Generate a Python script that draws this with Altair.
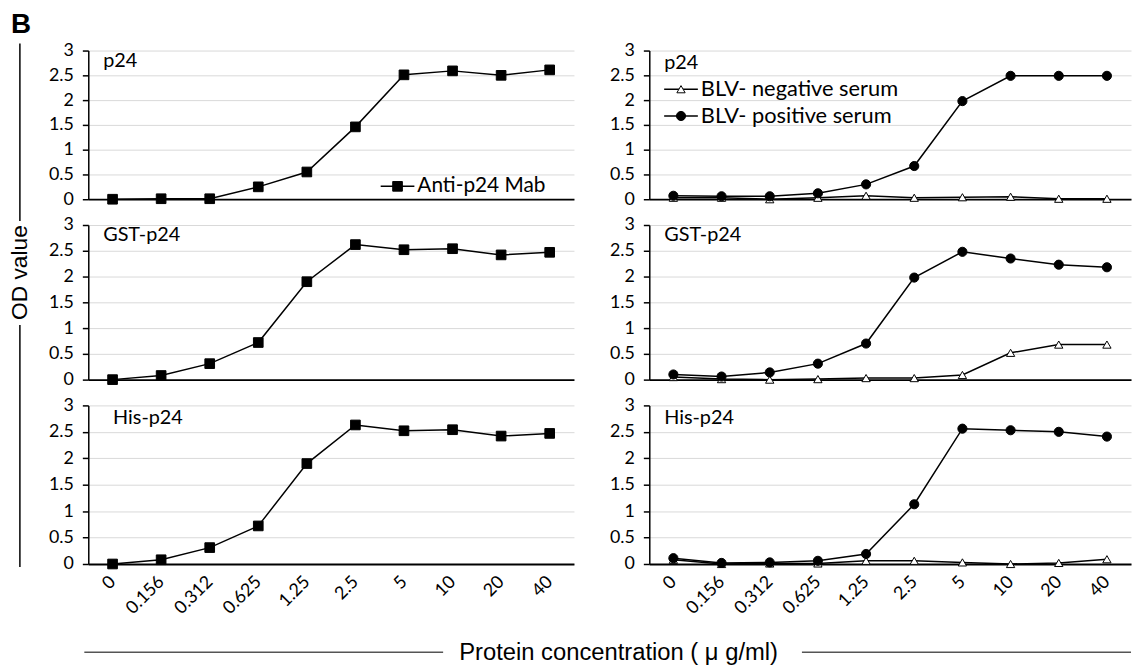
import altair as alt
import pandas as pd

conc_labels = ["0", "0.156", "0.312", "0.625", "1.25", "2.5", "5", "10", "20", "40"]

mab_p24 = [0.0, 0.01, 0.01, 0.25, 0.55, 1.46, 2.51, 2.59, 2.50, 2.61]
mab_gst = [0.0, 0.08, 0.31, 0.72, 1.90, 2.62, 2.52, 2.54, 2.42, 2.47]
mab_his = [0.0, 0.08, 0.31, 0.72, 1.90, 2.63, 2.52, 2.54, 2.42, 2.47]

neg_p24 = [0.03, 0.03, 0.00, 0.03, 0.07, 0.03, 0.04, 0.05, 0.01, 0.01]
pos_p24 = [0.07, 0.06, 0.06, 0.12, 0.30, 0.67, 1.98, 2.49, 2.49, 2.49]
neg_gst = [0.05, 0.01, 0.00, 0.01, 0.03, 0.03, 0.09, 0.52, 0.68, 0.68]
pos_gst = [0.10, 0.06, 0.14, 0.31, 0.70, 1.98, 2.48, 2.35, 2.23, 2.18]
neg_his = [0.08, 0.00, 0.01, 0.01, 0.06, 0.06, 0.03, 0.00, 0.02, 0.09]
pos_his = [0.11, 0.02, 0.03, 0.06, 0.19, 1.13, 2.56, 2.53, 2.50, 2.41]

panel_titles = ["p24", "GST-p24", "His-p24"]
mab_name = "Anti-p24 Mab"
neg_name = "BLV- negative serum"
pos_name = "BLV- positive serum"

TICK_FONT = "Lato"
TITLE_FONT = "Liberation Sans"

W_L, W_R = 490, 486
HEIGHTS = [150, 156, 160]


def frame(name, vals):
    return pd.DataFrame({"conc": conc_labels, "od": vals, "series": name})


def xy(bottom):
    if bottom:
        xaxis = alt.Axis(title=None, labelAngle=-45, labelAlign="right", labelBaseline="middle",
                         labelPadding=15, ticks=False, grid=False, domainWidth=1.8,
                         labelFontSize=18)
    else:
        xaxis = alt.Axis(title=None, labels=False, ticks=False, grid=False, domainWidth=1.8)
    x = alt.X("conc:N", sort=conc_labels,
              scale=alt.Scale(type="point", domain=conc_labels, padding=0.5), axis=xaxis)
    y = alt.Y("od:Q", scale=alt.Scale(domain=[0, 3], nice=False, zero=True),
              axis=alt.Axis(title=None, values=[0, 0.5, 1, 1.5, 2, 2.5, 3],
                            labelExpr="'' + datum.value", tickSize=6, labelPadding=9,
                            domainWidth=1.5, gridColor="#d9d9d9", gridWidth=1,
                            labelFontSize=18))
    return x, y


def series_layers(df, shape, fill, bottom, size):
    x, y = xy(bottom)
    base = alt.Chart(df)
    line = base.mark_line(color="black", strokeWidth=1.5).encode(x=x, y=y)
    pts = base.mark_point(shape=shape, filled=False, fill=fill, stroke="black", strokeWidth=1,
                          size=size, opacity=1).encode(x=x, y=y)
    return [line, pts]


def label_layer(text, px, py, size=20, font=TICK_FONT, bold=False, align="left", angle=0):
    return alt.Chart(pd.DataFrame({"t": [text]})).mark_text(
        align=align, baseline="middle", font=font, fontSize=size, color="black",
        fontWeight="bold" if bold else "normal", angle=angle
    ).encode(text="t:N", x=alt.value(px), y=alt.value(py))


def rule_layer(x1, y1, x2, y2, color="black", width=1.5):
    return alt.Chart(pd.DataFrame({"k": [0]})).mark_rule(color=color, strokeWidth=width).encode(
        x=alt.value(x1), y=alt.value(y1), x2=alt.value(x2), y2=alt.value(y2))


def legend_entry(name, px, py, shape, fill, size, fsize=21):
    d = pd.DataFrame({"k": [0]})
    ln = rule_layer(px, py, px + 34, py, width=1.5)
    sym = alt.Chart(d).mark_point(shape=shape, filled=False, fill=fill, stroke="black",
                                  strokeWidth=1, size=size, opacity=1).encode(
        x=alt.value(px + 17), y=alt.value(py))
    txt = label_layer(name, px + 37, py, size=fsize)
    return [ln, sym, txt]


left_vals = [mab_p24, mab_gst, mab_his]
right_vals = [(neg_p24, pos_p24), (neg_gst, pos_gst), (neg_his, pos_his)]
label_left_pos = [(15, 11), (15, 10), (25, 13)]
label_right_pos = [(15, 13), (15, 10), (15, 13)]

panels = []
for i in range(3):
    bottom = i == 2
    h = HEIGHTS[i]
    # left
    layers = series_layers(frame(mab_name, left_vals[i]), "square", "black", bottom, 95)
    layers.append(label_layer(panel_titles[i], *label_left_pos[i]))
    if i == 0:
        layers += legend_entry(mab_name, 295, 137, "square", "black", 95)
        layers.append(label_layer("B", -78, -26, size=28, font=TITLE_FONT, bold=True))
        layers.append(label_layer("OD value", -69, 224, size=23, font=TITLE_FONT,
                                  align="center", angle=270))
        layers.append(rule_layer(-69, -7, -69, 172))
        layers.append(rule_layer(-69, 277, -69, 521))
    if bottom:
        layers.append(label_layer("Protein concentration ( \u03bc g/ml)", 535, 250, size=24,
                                  font=TITLE_FONT, align="center"))
        layers.append(rule_layer(-4, 249, 358, 249, color="#555555", width=1.5))
        layers.append(rule_layer(720, 249, 1052, 249, color="#555555", width=1.5))
    panels.append(alt.layer(*layers).properties(width=W_L, height=h))

    # right
    neg, pos = right_vals[i]
    layers = series_layers(frame(neg_name, neg), "triangle-up", "white", bottom, 70)
    layers += series_layers(frame(pos_name, pos), "circle", "black", bottom, 85)
    layers.append(label_layer(panel_titles[i], *label_right_pos[i]))
    if i == 0:
        layers += legend_entry(neg_name, 15, 39, "triangle-up", "white", 70, fsize=22)
        layers += legend_entry(pos_name, 15, 66, "circle", "black", 85, fsize=22)
    panels.append(alt.layer(*layers).properties(width=W_R, height=h))

chart = alt.concat(*panels, columns=2, spacing=alt.RowColnumber(row=26, column=76),
                   bounds="flush").properties(
    padding={"left": 1, "top": 0, "right": 0, "bottom": 0},
    background="white",
).configure_view(stroke=None).configure_axis(
    labelFont=TICK_FONT, labelColor="black", domainColor="black", tickColor="black",
    tickWidth=1.5,
)

chart.save("out.html", embed_options={"renderer": "svg", "actions": False})
